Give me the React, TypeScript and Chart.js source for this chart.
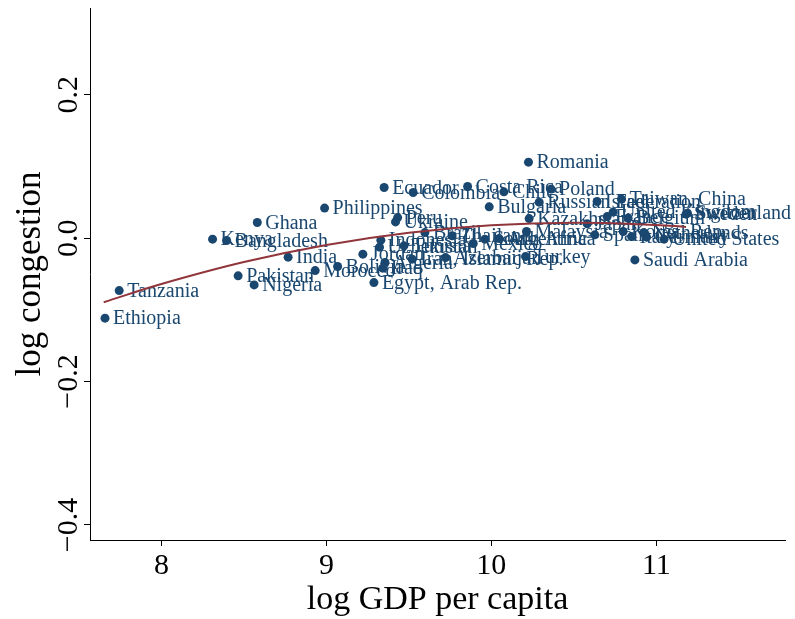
import React, { useEffect, useRef } from 'react';
import { Chart, registerables } from 'chart.js';

Chart.register(...registerables);

const countries = [
  'Ethiopia', 'Tanzania', 'Kenya', 'Bangladesh', 'Ghana', 'Pakistan', 'Nigeria', 'India',
  'Philippines', 'Morocco', 'Bolivia', 'Ecuador', 'Colombia', 'Peru', 'Ukraine', 'Jordan',
  'Indonesia', 'Uzbekistan', 'Tunisia', 'Algeria', 'Iraq', 'Iran, Islamic Rep.', 'Egypt, Arab Rep.',
  'Brazil', 'Costa Rica', 'Chile', 'Bulgaria', 'Thailand', 'Mexico', 'Azerbaijan', 'South Africa',
  'Argentina', 'Romania', 'Poland', 'Russian Federation', 'Kazakhstan', 'Malaysia', 'Turkey',
  'Israel', 'Taiwan, China', 'United Kingdom', 'France', 'Belgium', 'Switzerland', 'Sweden',
  'Japan', 'Spain', 'Korea, Rep.', 'Italy', 'Netherlands', 'Germany', 'United States', 'Saudi Arabia',
];

const logGdp = [
  7.658, 7.744, 8.310, 8.395, 8.581, 8.465, 8.562, 8.768,
  8.989, 8.932, 9.068, 9.350, 9.526, 9.432, 9.419, 9.221,
  9.330, 9.322, 9.470, 9.355, 9.341, 9.520, 9.288,
  9.597, 9.856, 10.076, 9.987, 9.762, 9.890, 9.722, 9.961,
  10.047, 10.225, 10.362, 10.290, 10.229, 10.213, 10.207,
  10.641, 10.789, 10.738, 10.702, 10.829, 11.189, 11.180,
  10.581, 10.627, 10.799, 10.850, 10.924, 10.941, 11.047, 10.870,
];

const logCongestion = [
  -0.1116, -0.0731, -0.0014, -0.0033, 0.0218, -0.0526, -0.0652, -0.0265,
  0.0419, -0.0452, -0.0396, 0.0706, 0.0636, 0.0287, 0.0227, -0.0223,
  -0.0028, -0.0126, -0.0107, -0.0340, -0.0419, -0.0293, -0.0620,
  0.0078, 0.0720, 0.0646, 0.0437, 0.0032, -0.0075, -0.0271, -0.0014,
  -0.0006, 0.1060, 0.0684, 0.0502, 0.0273, 0.0092, -0.0257,
  0.0511, 0.0544, 0.0363, 0.0301, 0.0279, 0.0349, 0.0335,
  0.0200, 0.0046, 0.0092, 0.0022, 0.0078, 0.0014, -0.0014, -0.0303,
];

const fitX = [7.65, 8.0, 8.5, 9.0, 9.5, 10.0, 10.5, 11.0, 11.18];
const fitY = [-0.0894, -0.064, -0.0334, -0.0096, 0.0075, 0.0179, 0.0215, 0.0185, 0.0157];

const xTicks = [8, 9, 10, 11];
const yTicks = [-0.4, -0.2, 0.0, 0.2];

const NAVY = '#1a476f';
const MAROON = '#90353b';
const SERIF = '"Liberation Serif", "Times New Roman", serif';

const fmtY = (v: number) => v.toFixed(1).replace('-', '\u2212');

export default function App() {
  const ref = useRef<HTMLCanvasElement>(null);

  useEffect(() => {
    if (!ref.current) return;
    const pts = countries.map((_, i) => ({ x: logGdp[i], y: logCongestion[i] }));
    const fit = fitX.map((x, i) => ({ x, y: fitY[i] }));

    const labelPlugin = {
      id: 'pointLabels',
      beforeDatasetsDraw(chart: any) {
        const meta = chart.getDatasetMeta(1);
        const ctx = chart.ctx;
        ctx.save();
        ctx.font = `20px ${SERIF}`;
        ctx.fillStyle = NAVY;
        ctx.textAlign = 'left';
        ctx.textBaseline = 'middle';
        meta.data.forEach((el: any, i: number) => {
          ctx.fillText(countries[i], el.x + 8, el.y + 1);
        });
        ctx.restore();
      },
      afterDraw(chart: any) {
        const s = chart.scales.y;
        const ctx = chart.ctx;
        ctx.save();
        ctx.font = `30px ${SERIF}`;
        ctx.fillStyle = '#000';
        ctx.textAlign = 'center';
        ctx.textBaseline = 'middle';
        yTicks.forEach((v) => {
          const py = s.getPixelForValue(v);
          ctx.save();
          ctx.translate(69, py);
          ctx.rotate(-Math.PI / 2);
          ctx.fillText(fmtY(v), 0, 0);
          ctx.restore();
        });
        ctx.restore();
      },
    };

    const chart = new Chart(ref.current, {
      type: 'scatter',
      data: {
        datasets: [
          {
            type: 'line',
            data: fit,
            borderColor: MAROON,
            borderWidth: 2,
            pointRadius: 0,
            tension: 0.4,
            fill: false,
          } as any,
          {
            data: pts,
            backgroundColor: NAVY,
            borderColor: NAVY,
            borderWidth: 0,
            pointRadius: 4.5,
            pointHoverRadius: 4.5,
          },
        ],
      },
      options: {
        responsive: false,
        animation: false,
        events: [],
        layout: { padding: { top: 8, right: 10, left: 0, bottom: 0 } },
        plugins: { legend: { display: false }, tooltip: { enabled: false } },
        scales: {
          x: {
            type: 'linear',
            min: 7.567,
            max: 11.78,
            afterFit(s: any) { s.height = 79; },
            afterBuildTicks(s: any) { s.ticks = xTicks.map((v) => ({ value: v })); },
            grid: { display: true, drawOnChartArea: false, drawTicks: true, tickLength: 6, color: '#000' },
            border: { display: true, color: '#000', width: 1 },
            ticks: { color: '#000', font: { family: SERIF, size: 30 }, padding: 2, callback: (v: any) => String(v) },
            title: { display: true, text: 'log GDP per capita', color: '#000', font: { family: SERIF, size: 34 }, padding: { top: 0, bottom: -1 } },
          },
          y: {
            type: 'linear',
            min: -0.421,
            max: 0.321,
            afterFit(s: any) { s.width = 90; },
            afterBuildTicks(s: any) { s.ticks = yTicks.map((v) => ({ value: v })); },
            grid: { display: true, drawOnChartArea: false, drawTicks: true, tickLength: 6, color: '#000' },
            border: { display: true, color: '#000', width: 1 },
            ticks: { display: false },
            title: { display: true, text: 'log congestion', color: '#000', font: { family: SERIF, size: 35 }, padding: { top: 10, bottom: 0 } },
          },
        },
      } as any,
      plugins: [labelPlugin],
    });
    return () => chart.destroy();
  }, []);

  return (
    <div style={{ position: 'absolute', left: 0, top: 0, width: 795, height: 619, background: '#fff' }}>
      <canvas ref={ref} width={795} height={619} style={{ display: 'block' }} />
    </div>
  );
}
